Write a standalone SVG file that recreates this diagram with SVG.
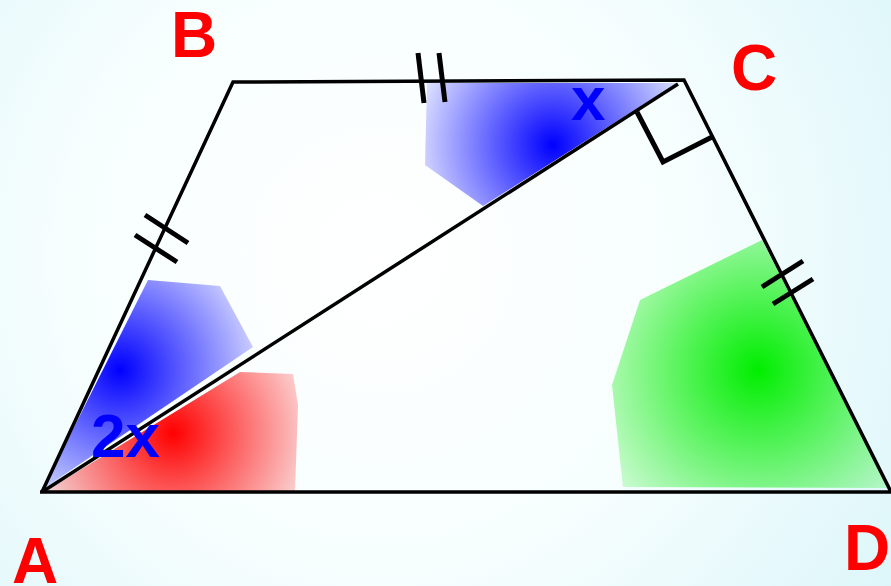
<svg xmlns="http://www.w3.org/2000/svg" width="891" height="586" viewBox="0 0 891 586">
<defs>
<radialGradient id="bg" gradientUnits="userSpaceOnUse" cx="380" cy="260" r="620">
<stop offset="0" stop-color="#ffffff"/>
<stop offset="0.5" stop-color="#f7fefe"/>
<stop offset="1" stop-color="#dcf6fa"/>
</radialGradient>
<radialGradient id="gBlue1" gradientUnits="userSpaceOnUse" cx="553" cy="145" r="150">
<stop offset="0" stop-color="#0000ff"/>
<stop offset="1" stop-color="#0000ff" stop-opacity="0.05"/>
</radialGradient>
<radialGradient id="gBlue2" gradientUnits="userSpaceOnUse" cx="120" cy="370" r="155">
<stop offset="0" stop-color="#0000ff"/>
<stop offset="1" stop-color="#0000ff" stop-opacity="0.08"/>
</radialGradient>
<radialGradient id="gRed" gradientUnits="userSpaceOnUse" cx="173" cy="433" r="150">
<stop offset="0" stop-color="#ff0000"/>
<stop offset="1" stop-color="#ff0000" stop-opacity="0.1"/>
</radialGradient>
<radialGradient id="gGreen" gradientUnits="userSpaceOnUse" cx="758" cy="370" r="195">
<stop offset="0" stop-color="#00ee00"/>
<stop offset="1" stop-color="#00ee00" stop-opacity="0.1"/>
</radialGradient>
</defs>
<style>
.edge{fill:none;stroke:#000;stroke-width:3.5;stroke-linejoin:miter}
.tick{fill:none;stroke:#000;stroke-width:5}
.vlabel{font-family:"Liberation Sans",Arial,sans-serif;font-weight:bold;font-size:64px;fill:#ff0000}
.alabel{font-family:"Liberation Sans",Arial,sans-serif;font-weight:bold;font-size:62px;fill:#0000ff}
</style>
<rect width="891" height="586" fill="url(#bg)"/>
<g id="shading">
<polygon points="427,83 677,83 483,206 425,165" fill="url(#gBlue1)"/>
<polygon points="43,489 148,280 220,286 253,347" fill="url(#gBlue2)"/>
<polygon points="46,491 240,372 293,374 298,405 295,491" fill="url(#gRed)"/>
<polygon points="762,240 640,300 612,385 623,487 889,488" fill="url(#gGreen)"/>
</g>
<g id="connectors">
<polyline class="edge" points="42,492 233,82 684,80 891,492"/>
<line class="edge" x1="40" y1="492" x2="891" y2="492" stroke-width="4"/>
<line class="edge" x1="42" y1="492" x2="678" y2="84"/>
<polyline class="tick" points="637,112 663,162 712,137"/>
<line class="tick" x1="418" y1="53" x2="424" y2="103"/>
<line class="tick" x1="439" y1="53" x2="445" y2="102"/>
<line class="tick" x1="145" y1="215" x2="188" y2="243"/>
<line class="tick" x1="135" y1="235" x2="177" y2="262"/>
<line class="tick" x1="803" y1="261" x2="762" y2="287"/>
<line class="tick" x1="813" y1="279" x2="773" y2="304"/>
</g>
<g id="A"><text class="vlabel" x="12" y="583">A</text></g>
<g id="B"><text class="vlabel" x="171" y="57">B</text></g>
<g id="C"><text class="vlabel" x="731" y="90">C</text></g>
<g id="D"><text class="vlabel" x="844" y="570">D</text></g>
<g id="angle-x"><text class="alabel" x="571" y="120">x</text></g>
<g id="angle-2x"><text class="alabel" x="91" y="457">2x</text></g>
</svg>
